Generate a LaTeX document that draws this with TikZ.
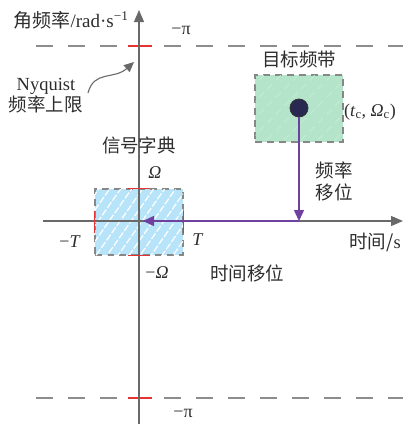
\documentclass[tikz,border=0pt]{standalone}
\usepackage{fontspec}
\setmainfont{Liberation Serif}
\newfontfamily\cjk{Noto Sans CJK SC}
\usetikzlibrary{arrows.meta,positioning,patterns.meta}
\definecolor{axisgray}{RGB}{105,105,105}
\definecolor{limgray}{RGB}{140,140,140}
\definecolor{boxblue}{RGB}{184,228,250}
\definecolor{boxgreen}{RGB}{180,228,202}
\definecolor{hatchgreen}{RGB}{196,236,212}
\definecolor{shiftpurple}{RGB}{112,64,160}
\definecolor{dotnavy}{RGB}{40,40,80}
\definecolor{limred}{RGB}{232,50,50}
\definecolor{txtgray}{RGB}{45,45,45}

\begin{document}
\begin{tikzpicture}[x=1pt,y=-1pt,
  lbl/.style={font=\fontsize{18.5}{22}\selectfont\cjk,text=txtgray,inner sep=1pt},
  sym/.style={font=\fontsize{18}{21}\selectfont,text=txtgray,inner sep=1pt},
  nyqline/.style={limgray,line width=1.3pt,dash pattern=on 17pt off 15pt},
  boxline/.style={draw=axisgray!80,line width=1.3pt,dash pattern=on 7pt off 5pt},
  redmark/.style={limred,line width=1.6pt},
  axisline/.style={axisgray,line width=1.2pt,-{Triangle[length=12pt,width=10pt]}},
  shiftline/.style={shiftpurple,line width=1.5pt,-{Triangle[length=11pt,width=10pt]}}]
\useasboundingbox (0,0) rectangle (403,424);

% --- Nyquist limits ---
\draw[nyqline] (36,46) -- (403,46);
\draw[nyqline] (36,398) -- (403,398);
\draw[redmark] (128,46) -- (152,46);
\draw[redmark] (128,398) -- (152,398);
\node[sym] (pitop) at (181,30) {−π};
\node[sym] (pibot) at (183,413) {−π};

% --- boxes ---
\node[boxline,fill=boxblue,postaction={pattern={Lines[angle=55,distance=9pt,line width=1.2pt]},pattern color=white},
  minimum width=88pt,minimum height=66pt,inner sep=0pt] (dict) at (139,222) {};
\node[boxline,fill=boxgreen,postaction={pattern={Lines[angle=45,distance=12pt,line width=1pt]},pattern color=hatchgreen},
  minimum width=88pt,minimum height=67pt,inner sep=0pt] (band) at (299,108.5) {};

% --- axes ---
\coordinate (o) at (139,221);
\draw[axisline] (139,424) -- (139,10);
\draw[axisline] (43,221) -- (403,221);
\node[font=\fontsize{19}{22}\selectfont,text=txtgray,inner sep=1pt] (ylab) at (71,20) {{\cjk 角频率}/rad·s\textsuperscript{−1}};
\node[lbl] (xlab) at (375,242) {时间/\rmfamily s};

% --- red limits on the dictionary box ---
\draw[redmark] ([xshift=-11pt]dict.north) -- ([xshift=11pt]dict.north);
\draw[redmark] ([xshift=-11pt]dict.south) -- ([xshift=11pt]dict.south);
\draw[redmark] ([yshift=-11pt]dict.west) -- ([yshift=11pt]dict.west);
\draw[redmark] ([yshift=-11pt]dict.east) -- ([yshift=11pt]dict.east);
\node[sym] (om) at (155,173) {\textit{Ω}};
\node[sym] (mom) at (157,273) {−\textit{Ω}};
\node[sym] (mt) at (70,242) {−\textit{T}};
\node[sym] (t) at (198,240) {\textit{T}};
\node[lbl] (dictlab) at (139,145) {信号字典};

% --- target band and shifts ---
\node[circle,fill=dotnavy,draw=black!80,line width=0.8pt,minimum size=18pt,inner sep=0pt] (c) at (299,108) {};
\node[sym,anchor=west] (clab) at (343,112) {(\textit{t}\textsubscript{c}, \textit{Ω}\textsubscript{c})};
\node[lbl,above=5pt of band] (bandlab) {目标频带};
\coordinate (turn) at (299,221);
\draw[shiftline] (c) -- (turn);
\draw[shiftline] (turn) -- ([xshift=4pt]o);
\node[lbl,align=center] (fshift) at (334,181) {频率\\移位};
\node[lbl] (tshift) at (247,273) {时间移位};

% --- Nyquist note ---
\node[font=\fontsize{18.5}{21}\selectfont,text=txtgray,align=center,inner sep=1pt] (nyq) at (46,96) {Nyquist\\{\cjk 频率上限}};
\draw[axisgray,line width=1.1pt,-{Triangle[length=10pt,width=9pt]}] (88,93) .. controls (94,70) and (114,80) .. (134,62);
\end{tikzpicture}
\end{document}
